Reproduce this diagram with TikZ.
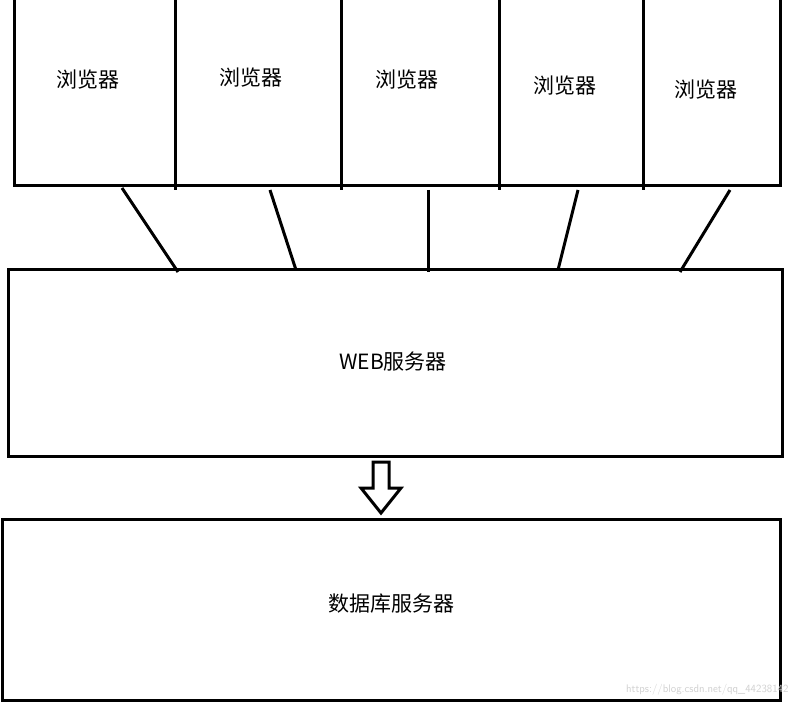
\documentclass[tikz,border=0pt]{standalone}
\usepackage{fontspec}
\newfontfamily\cjk{Noto Sans CJK SC}
\usetikzlibrary{calc}
\begin{document}
\begin{tikzpicture}[x=1pt,y=-1pt,
  box/.style={draw=black,line width=3pt},
  lbl/.style={font=\cjk\fontsize{21}{24}\selectfont},
  conn/.style={draw=black,line width=3pt}]
\useasboundingbox (0,0) rectangle (797,708);
\fill[white] (0,0) rectangle (797,708);
% browser boxes
\draw[box] (14,-4) rectangle (780,186);
\foreach \x in {175,341,499,643} \draw[box] (\x,-4) -- (\x,190);
\node[lbl] (b1) at (88,80) {浏览器};
\node[lbl] (b2) at (251,78) {浏览器};
\node[lbl] (b3) at (407,80) {浏览器};
\node[lbl] (b4) at (565,86) {浏览器};
\node[lbl] (b5) at (706,90) {浏览器};
% web server
\draw[box] (8,270) rectangle (782,456);
\node[lbl] (web) at (393,362) {WEB服务器};
% connectors
\coordinate (t1) at (122,188); \coordinate (u1) at (178,272);
\coordinate (t2) at (270,190); \coordinate (u2) at (296,270);
\coordinate (t3) at (428,190); \coordinate (u3) at (428,272);
\coordinate (t4) at (578,190); \coordinate (u4) at (558,270);
\coordinate (t5) at (730,190); \coordinate (u5) at (680,272);
\foreach \i in {1,...,5} \draw[conn] (t\i) -- (u\i);
% hollow arrow
\draw[black,line width=3pt,line join=miter] (373,462) -- (389,462) -- (389,488) -- (401,488) -- (381,513) -- (361,488) -- (373,488) -- cycle;
% db server
\draw[box] (2,519) rectangle (780,700);
\node[lbl] (db) at (391,604) {数据库服务器};
\node[font=\sffamily\fontsize{11}{12}\selectfont,text=black!18,anchor=east] (wm) at (792,690) {https://blog.csdn.net/qq\_44238142};
\end{tikzpicture}
\end{document}
